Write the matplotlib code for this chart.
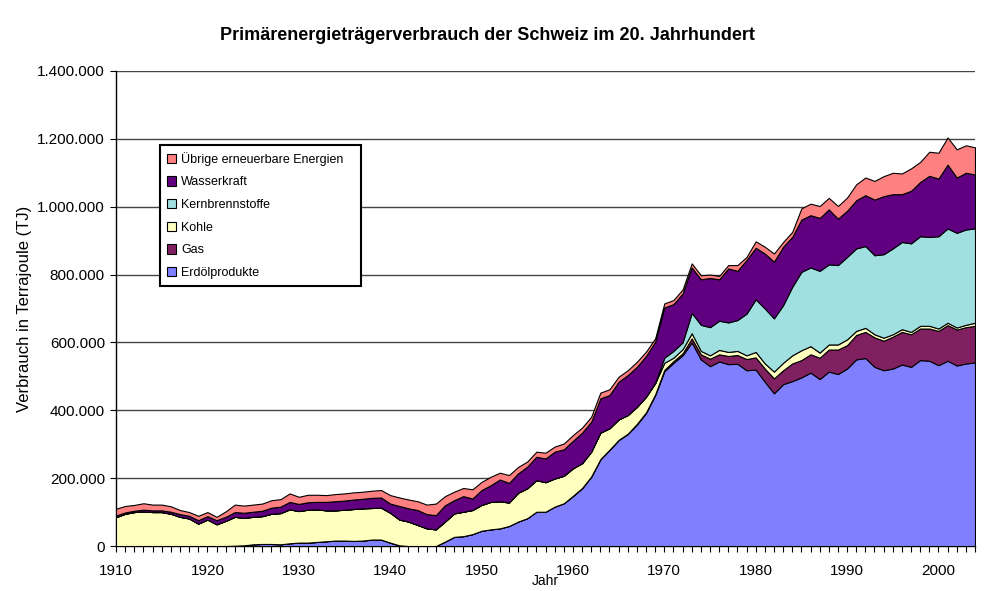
import numpy as np
import matplotlib
matplotlib.use("Agg")
import matplotlib.pyplot as plt
from matplotlib.ticker import FuncFormatter, MultipleLocator

plt.rcParams['font.family'] = ['Liberation Sans', 'DejaVu Sans']

years = np.arange(1910, 2005)

# values in 1000 TJ
erdoel = [0, 0, 0, 0, 0, 0, 0, 0, 0, 0,
          0, 0, 0, 1, 2, 5, 6, 6, 5, 8,
          10, 10, 12, 14, 16, 16, 15, 16, 19, 19,
          10, 2, 0, 0, 0, 0, 13, 27, 29, 35,
          45, 49, 52, 59, 72, 82, 101, 101, 116, 126,
          147, 170, 204, 255, 283, 312, 330, 358, 392, 445,
          515, 540, 562, 600, 550, 530, 544, 536, 537, 518,
          520, 484, 450, 477, 486, 497, 511, 492, 514, 507,
          523, 550, 554, 528, 518, 523, 535, 528, 548, 546,
          533, 546, 532, 538, 541]
gas = [0] * 50 + [1, 1, 1, 1, 1, 1, 1, 2, 2, 2,
                  4, 5, 6, 12, 15, 22, 21, 24, 26, 33,
                  36, 39, 44, 41, 52, 51, 54, 63, 65, 72,
                  69, 72, 77, 87, 87, 94, 96, 96, 93, 95,
                  101, 105, 106, 107, 108]
kohle = [85, 95, 100, 102, 100, 100, 95, 86, 81, 66,
         78, 64, 74, 85, 81, 81, 82, 89, 92, 100,
         93, 97, 96, 91, 89, 91, 94, 95, 93, 94,
         88, 76, 72, 62, 52, 49, 59, 69, 72, 71,
         76, 81, 80, 69, 85, 88, 93, 87, 83, 81,
         81, 73, 73, 78, 63, 60, 55, 50, 46, 33,
         21, 10, 12, 15, 10, 10, 13, 12, 12, 11,
         16, 15, 20, 22, 24, 29, 24, 15, 15, 15,
         17, 12, 12, 9, 9, 7, 8, 7, 8, 8,
         7, 7, 6, 7, 9]
kern = [0] * 59 + [1,
                   15, 20, 20, 60, 77, 83, 86, 87, 91, 123,
                   155, 162, 157, 170, 202, 231, 232, 241, 236, 234,
                   243, 243, 241, 233, 246, 253, 257, 261, 264, 262,
                   272, 278, 279, 281, 278]
wasser = [5, 4, 4, 5, 5, 5, 6, 8, 8, 10,
          10, 12, 12, 14, 15, 15, 16, 18, 19, 22,
          21, 22, 22, 25, 27, 27, 28, 28, 30, 30,
          27, 40, 39, 44, 42, 42, 48, 39, 46, 34,
          44, 49, 64, 58, 57, 64, 69, 70, 79, 78,
          81, 90, 88, 101, 98, 111, 118, 118, 120, 121,
          148, 138, 144, 134, 134, 145, 122, 159, 145, 158,
          152, 162, 167, 172, 147, 154, 154, 156, 162, 137,
          136, 142, 150, 164, 171, 160, 141, 155, 160, 180,
          170, 188, 163, 167, 159]
uebrige = [20, 19, 17, 19, 17, 17, 16, 12, 11, 13,
           12, 10, 16, 22, 21, 21, 21, 22, 22, 25,
           21, 22, 21, 20, 21, 21, 21, 21, 21, 22,
           25, 25, 26, 26, 28, 34, 27, 25, 24, 27,
           24, 25, 20, 23, 19, 15, 15, 17, 15, 17,
           17, 15, 15, 17, 17, 15, 14, 15, 13, 10,
           12, 12, 12, 12, 12, 10, 10, 10, 17, 9,
           19, 20, 24, 14, 15, 33, 34, 35, 34, 37,
           39, 47, 52, 55, 59, 63, 61, 66, 59, 71,
           76, 80, 83, 81, 80]

labels = ["Erdölprodukte", "Gas", "Kohle", "Kernbrennstoffe", "Wasserkraft",
          "Übrige erneuerbare Energien"]
colors = ["#8080FF", "#802060", "#FFFFC0", "#A0E0E0", "#600080", "#FF8080"]

series = [np.array(s) * 1000 for s in [erdoel, gas, kohle, kern, wasser, uebrige]]

fig = plt.figure(figsize=(10.03, 5.91), dpi=100)
ax = fig.add_axes([116 / 1003, 1 - 546 / 591, (975 - 116) / 1003, (546 - 71) / 591])

ax.stackplot(years, *series, labels=labels, colors=colors,
             edgecolor="black", linewidth=0.8, zorder=3)

ax.set_xlim(1910, 2004)
ax.set_ylim(0, 1400000)
ax.yaxis.set_major_locator(MultipleLocator(200000))
ax.xaxis.set_major_locator(MultipleLocator(10))
ax.xaxis.set_minor_locator(MultipleLocator(1))
ax.yaxis.set_major_formatter(FuncFormatter(lambda v, p: f"{int(v):,}".replace(",", ".")))
ax.grid(axis="y", color="#444444", linewidth=1.0, zorder=1)
ax.set_axisbelow(True)

for s in ["top", "right"]:
    ax.spines[s].set_visible(False)
ax.spines["left"].set_linewidth(1.0)
ax.spines["bottom"].set_linewidth(1.0)

ax.tick_params(axis="x", which="both", length=4, width=0.8, direction="out",
               pad=9, labelsize=11)
ax.tick_params(axis="y", length=4, width=0.8, direction="out", pad=4, labelsize=11)

ax.set_ylabel("Verbrauch in Terrajoule (TJ)", fontsize=12, labelpad=4)
ax.set_xlabel("Jahr", fontsize=10, labelpad=-3)

fig.text(487 / 1003, 1 - 35 / 591,
         "Primärenergieträgerverbrauch der Schweiz im 20. Jahrhundert",
         ha="center", va="center", fontsize=13, fontweight="bold")

handles, labs = ax.get_legend_handles_labels()
x0 = (160 - 116) / 859
w = (361 - 160) / 859
top = (546 - 145) / 475
leg = ax.legend(handles[::-1], labs[::-1], loc="upper left",
                bbox_to_anchor=(x0, top - 0.3, w, 0.3), mode="expand",
                fontsize=9, labelspacing=0.85, handlelength=0.75, handleheight=0.75,
                handletextpad=0.4, borderpad=0.55, fancybox=False, framealpha=1,
                edgecolor="black", borderaxespad=0)
leg.get_frame().set_linewidth(1.5)
leg.set_zorder(5)

fig.savefig("out.png", dpi=100)
